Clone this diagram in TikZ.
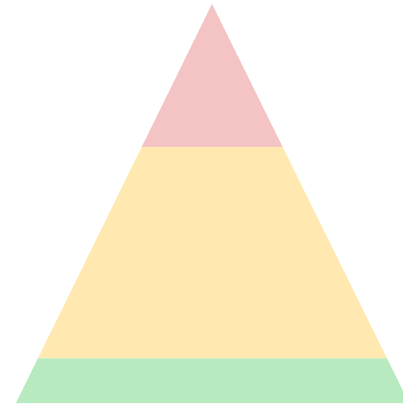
\documentclass[tikz,border=0pt]{standalone}
\usepackage{tikz}
\usetikzlibrary{calc}
\definecolor{toppink}{RGB}{244,196,196}
\definecolor{midyellow}{RGB}{255,233,176}
\definecolor{basegreen}{RGB}{184,234,192}

\begin{document}
\begin{tikzpicture}[x=1pt, y=-1pt]
    \useasboundingbox (0,0) rectangle (403,407);
    \clip (0,0) rectangle (403,407);
    \coordinate (apex) at (212,4);
    \coordinate (bl) at (16,403);
    \coordinate (br) at (409,403);
    \coordinate (l1) at ($(apex)!0.358!(bl)$);
    \coordinate (r1) at ($(apex)!0.358!(br)$);
    \coordinate (l2) at ($(apex)!0.888!(bl)$);
    \coordinate (r2) at ($(apex)!0.888!(br)$);
    \fill[toppink] (apex) -- (l1) -- (r1) -- cycle;
    \fill[midyellow] (l1) -- (l2) -- (r2) -- (r1) -- cycle;
    \fill[basegreen] (l2) -- (bl) -- (br) -- (r2) -- cycle;
\end{tikzpicture}
\end{document}
